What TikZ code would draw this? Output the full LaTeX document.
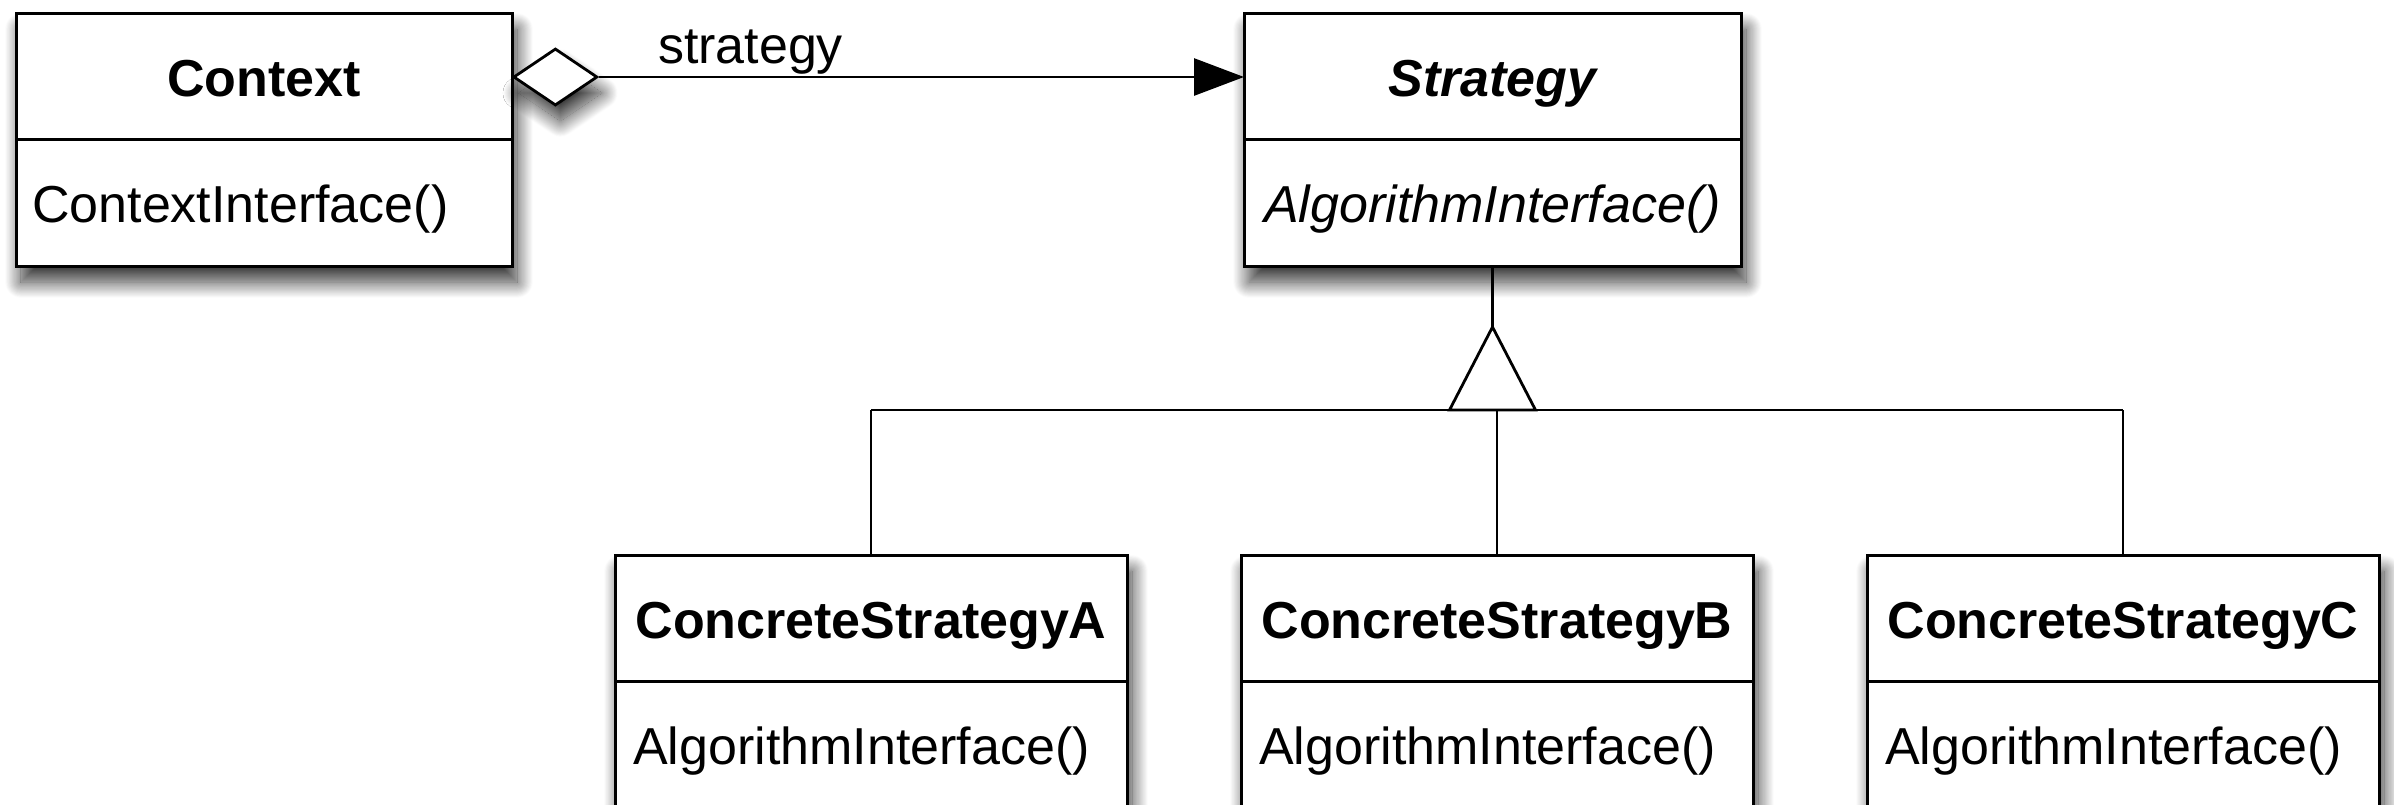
\documentclass[tikz,border=0pt]{standalone}
\usepackage{fontspec}
\setmainfont{Liberation Sans}
\usetikzlibrary{shapes.geometric,arrows.meta,shadows.blur}
\begin{document}
\begin{tikzpicture}[x=1pt,y=-1pt,
  lw/.style={line width=2.8pt},
  shad/.style={blur shadow={shadow xshift=5pt,shadow yshift=-16pt,shadow blur radius=16pt,shadow blur steps=30,shadow opacity=80}},
  classbox/.style={draw,line width=3pt,fill=white,shad,rectangle,inner sep=0pt,outer sep=0pt,anchor=north west},
  big/.style={font=\fontsize{52}{62}\selectfont,inner sep=0pt},
  titletext/.style={big,font=\fontsize{52}{62}\selectfont\bfseries,anchor=base},
  methodtext/.style={big,anchor=base west},
  aggdiamond/.style={diamond,draw,lw,fill=white,shad,inner sep=0pt,minimum width=84pt,minimum height=57pt,anchor=west},
]
\useasboundingbox (0,0) rectangle (2394,804);

% class boxes
\node[classbox,minimum width=496pt,minimum height=253pt] (ctx) at (16,13) {};
\node[classbox,minimum width=497pt,minimum height=253pt] (str) at (1244,13) {};
\node[classbox,minimum width=512pt,minimum height=256pt] (ca) at (615,555) {};
\node[classbox,minimum width=512pt,minimum height=256pt] (cb) at (1241,555) {};
\node[classbox,minimum width=512pt,minimum height=256pt] (cc) at (1867,555) {};

% dividers
\foreach \b in {ctx,str,ca,cb,cc}{
  \draw[line width=3pt] ([yshift=-126pt]\b.north west) -- ([yshift=-126pt]\b.north east);
}

% titles
\node[titletext] (ctxt) at ([yshift=-83pt]ctx.north) {Context};
\node[titletext,font=\fontsize{52}{62}\selectfont\bfseries\itshape] (strt) at ([yshift=-83pt]str.north) {Strategy};
\node[titletext] (cat) at ([yshift=-83pt]ca.north) {ConcreteStrategyA};
\node[titletext] (cbt) at ([yshift=-83pt]cb.north) {ConcreteStrategyB};
\node[titletext] (cct) at ([yshift=-83pt]cc.north) {ConcreteStrategyC};

% methods
\node[methodtext] (ctxm) at ([xshift=16pt,yshift=-209pt]ctx.north west) {ContextInterface()};
\node[methodtext,font=\fontsize{52}{62}\selectfont\itshape] (strm) at ([xshift=20pt,yshift=-209pt]str.north west) {AlgorithmInterface()};
\node[methodtext] (cam) at ([xshift=18pt,yshift=-209pt]ca.north west) {AlgorithmInterface()};
\node[methodtext] (cbm) at ([xshift=18pt,yshift=-209pt]cb.north west) {AlgorithmInterface()};
\node[methodtext] (ccm) at ([xshift=18pt,yshift=-209pt]cc.north west) {AlgorithmInterface()};

% aggregation
\node[aggdiamond] (dia) at ([yshift=-64pt]ctx.north east) {};
\node[big,anchor=base west] (lbl) at ([xshift=59pt,yshift=14pt]dia.east) {strategy};
\draw[lw,-{Triangle[length=50pt,width=37pt]}] (dia.east) -- (dia.east -| str.west);

% inheritance
\coordinate (hub) at ([yshift=-144pt]str.south);
\coordinate (apex) at ([yshift=-61pt]str.south);
\draw[lw] (str.south) -- (apex);
\draw[lw,line join=miter] (apex) -- ([xshift=-43pt]hub) -- ([xshift=43pt]hub) -- cycle;
\draw[lw] (hub -| ca.north) -- (hub -| cc.north);
\draw[lw] (hub -| ca.north) -- (ca.north);
\draw[lw] (hub -| cb.north) -- (cb.north);
\draw[lw] (hub -| cc.north) -- (cc.north);
\end{tikzpicture}
\end{document}
